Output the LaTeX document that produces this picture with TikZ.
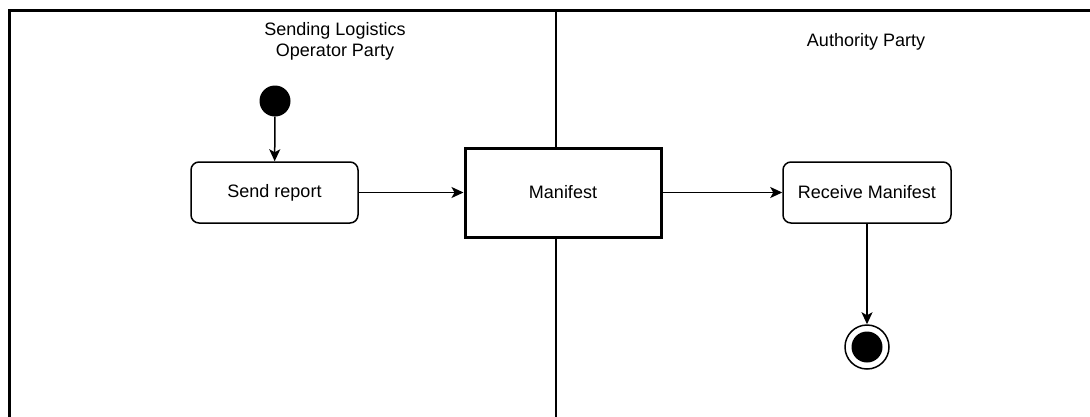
\documentclass[tikz,border=0pt]{standalone}
\usepackage{fontspec}
\setmainfont{Liberation Sans}
\usetikzlibrary{arrows.meta}
\begin{document}
\begin{tikzpicture}[x=1pt,y=-1pt,
  lbl/.style={font=\fontsize{18}{21}\selectfont, align=center, inner sep=0pt},
  actbox/.style={draw, line width=1.5pt, rounded corners=8pt, fill=white, minimum width=167pt, minimum height=61pt, font=\fontsize{18}{21}\selectfont},
  objbox/.style={draw, line width=3pt, fill=white, minimum width=196pt, minimum height=89pt, font=\fontsize{18}{21}\selectfont},
  flow/.style={line width=1.5pt, -{Stealth[length=12pt,width=11pt,inset=3pt]}},
  lane/.style={line width=3pt}
]
\useasboundingbox (0,0) rectangle (1090,416);
\fill[white] (0,0) rectangle (1090,416);
% swimlane frame
\coordinate (fbl) at (9,420);
\coordinate (ftl) at (9,10);
\coordinate (ftr) at (1095,10);
\coordinate (dtop) at (556,10);
\coordinate (dbot) at (556,420);
\draw[lane, line cap=rect] (fbl) -- (ftl) -- (ftr);
\draw[line width=2.5pt] (dtop) -- (dbot);
% lane titles
\node[lbl] (t1) at (335,41.5) {Sending Logistics\\Operator Party};
\node[lbl] (t2) at (866,41.5) {Authority Party};
% nodes
\node[circle, fill=black, minimum size=31pt, inner sep=0pt] (start) at (275,101) {};
\node[actbox] (send) at (274.5,192.5) {Send report};
\node[objbox] (man) at (563,192.5) {Manifest};
\node[actbox, minimum width=168pt] (recv) at (867,192.5) {Receive Manifest};
\node[circle, draw, line width=1.5pt, fill=white, minimum size=44pt, inner sep=0pt] (end) at (867,347) {};
\node[circle, fill=black, minimum size=31pt, inner sep=0pt] (endin) at (end.center) {};
% connectors
\draw[flow] (start) -- (send);
\draw[flow] (send) -- (man);
\draw[flow] (man) -- (recv);
\draw[flow] (recv) -- (end);
\end{tikzpicture}
\end{document}
